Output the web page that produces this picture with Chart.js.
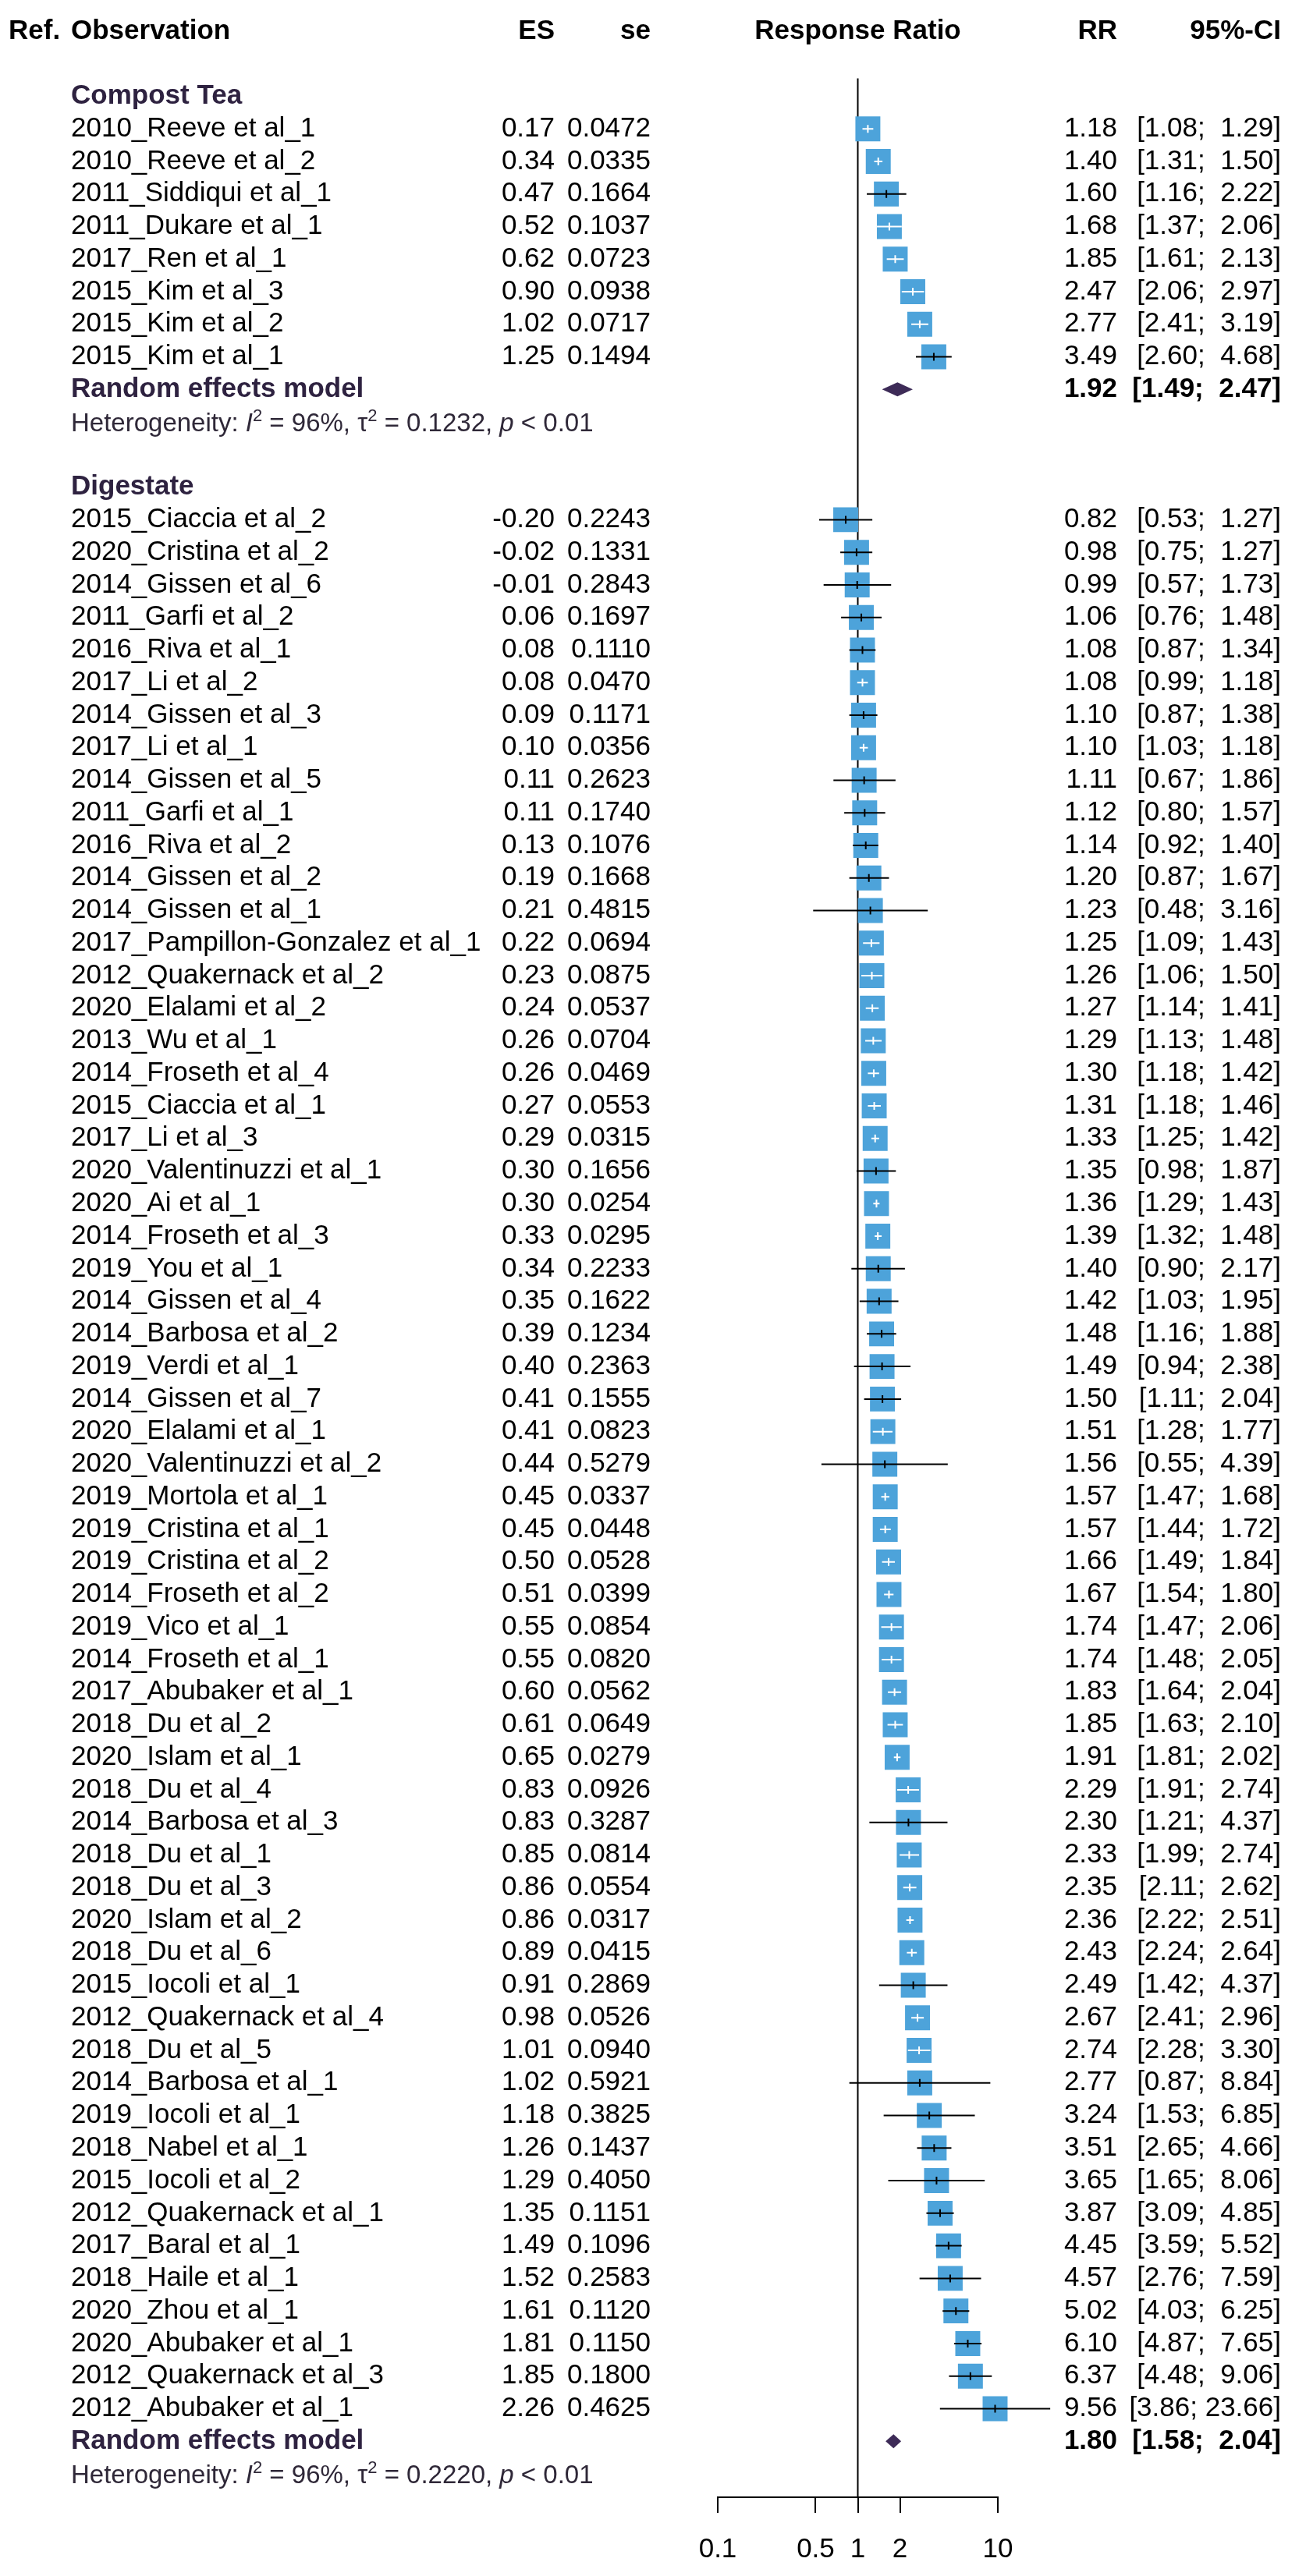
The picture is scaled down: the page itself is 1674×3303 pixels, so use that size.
<!DOCTYPE html>
<html>
<head>
<meta charset="utf-8">
<script src="https://cdn.jsdelivr.net/npm/chart.js@4.4.1/dist/chart.umd.min.js"></script>
<style>
  html, body { margin: 0; padding: 0; background: #fff; }
  canvas { display: block; }
</style>
</head>
<body>
<canvas id="forestChart" width="1674" height="3303"></canvas>
<script>
// Compost Tea
const compostNames = [
    "2010_Reeve et al_1", "2010_Reeve et al_2", "2011_Siddiqui et al_1", "2011_Dukare et al_1",
    "2017_Ren et al_1", "2015_Kim et al_3", "2015_Kim et al_2", "2015_Kim et al_1"
];
const compostES = [0.17, 0.34, 0.47, 0.52, 0.62, 0.90, 1.02, 1.25];
const compostSE = [0.0472, 0.0335, 0.1664, 0.1037, 0.0723, 0.0938, 0.0717, 0.1494];
const compostRR = [1.18, 1.40, 1.60, 1.68, 1.85, 2.47, 2.77, 3.49];
const compostLower = [1.08, 1.31, 1.16, 1.37, 1.61, 2.06, 2.41, 2.60];
const compostUpper = [1.29, 1.50, 2.22, 2.06, 2.13, 2.97, 3.19, 4.68];
const compostPooled = [1.92, 1.49, 2.47];
const compostHet = ["96%", "0.1232", "< 0.01"];

// Digestate
const digestateNames = [
    "2015_Ciaccia et al_2", "2020_Cristina et al_2", "2014_Gissen et al_6", "2011_Garfi et al_2",
    "2016_Riva et al_1", "2017_Li et al_2", "2014_Gissen et al_3", "2017_Li et al_1",
    "2014_Gissen et al_5", "2011_Garfi et al_1", "2016_Riva et al_2", "2014_Gissen et al_2",
    "2014_Gissen et al_1", "2017_Pampillon-Gonzalez et al_1", "2012_Quakernack et al_2", "2020_Elalami et al_2",
    "2013_Wu et al_1", "2014_Froseth et al_4", "2015_Ciaccia et al_1", "2017_Li et al_3",
    "2020_Valentinuzzi et al_1", "2020_Ai et al_1", "2014_Froseth et al_3", "2019_You et al_1",
    "2014_Gissen et al_4", "2014_Barbosa et al_2", "2019_Verdi et al_1", "2014_Gissen et al_7",
    "2020_Elalami et al_1", "2020_Valentinuzzi et al_2", "2019_Mortola et al_1", "2019_Cristina et al_1",
    "2019_Cristina et al_2", "2014_Froseth et al_2", "2019_Vico et al_1", "2014_Froseth et al_1",
    "2017_Abubaker et al_1", "2018_Du et al_2", "2020_Islam et al_1", "2018_Du et al_4",
    "2014_Barbosa et al_3", "2018_Du et al_1", "2018_Du et al_3", "2020_Islam et al_2",
    "2018_Du et al_6", "2015_Iocoli et al_1", "2012_Quakernack et al_4", "2018_Du et al_5",
    "2014_Barbosa et al_1", "2019_Iocoli et al_1", "2018_Nabel et al_1", "2015_Iocoli et al_2",
    "2012_Quakernack et al_1", "2017_Baral et al_1", "2018_Haile et al_1", "2020_Zhou et al_1",
    "2020_Abubaker et al_1", "2012_Quakernack et al_3", "2012_Abubaker et al_1"
];
const digestateES = [
    -0.20, -0.02, -0.01, 0.06, 0.08, 0.08, 0.09, 0.10, 0.11, 0.11, 0.13, 0.19, 0.21, 0.22, 0.23, 0.24,
    0.26, 0.26, 0.27, 0.29, 0.30, 0.30, 0.33, 0.34, 0.35, 0.39, 0.40, 0.41, 0.41, 0.44, 0.45, 0.45,
    0.50, 0.51, 0.55, 0.55, 0.60, 0.61, 0.65, 0.83, 0.83, 0.85, 0.86, 0.86, 0.89, 0.91, 0.98, 1.01,
    1.02, 1.18, 1.26, 1.29, 1.35, 1.49, 1.52, 1.61, 1.81, 1.85, 2.26
];
const digestateSE = [
    0.2243, 0.1331, 0.2843, 0.1697, 0.1110, 0.0470, 0.1171, 0.0356, 0.2623, 0.1740, 0.1076, 0.1668,
    0.4815, 0.0694, 0.0875, 0.0537, 0.0704, 0.0469, 0.0553, 0.0315, 0.1656, 0.0254, 0.0295, 0.2233,
    0.1622, 0.1234, 0.2363, 0.1555, 0.0823, 0.5279, 0.0337, 0.0448, 0.0528, 0.0399, 0.0854, 0.0820,
    0.0562, 0.0649, 0.0279, 0.0926, 0.3287, 0.0814, 0.0554, 0.0317, 0.0415, 0.2869, 0.0526, 0.0940,
    0.5921, 0.3825, 0.1437, 0.4050, 0.1151, 0.1096, 0.2583, 0.1120, 0.1150, 0.1800, 0.4625
];
const digestateRR = [
    0.82, 0.98, 0.99, 1.06, 1.08, 1.08, 1.10, 1.10, 1.11, 1.12, 1.14, 1.20, 1.23, 1.25, 1.26, 1.27,
    1.29, 1.30, 1.31, 1.33, 1.35, 1.36, 1.39, 1.40, 1.42, 1.48, 1.49, 1.50, 1.51, 1.56, 1.57, 1.57,
    1.66, 1.67, 1.74, 1.74, 1.83, 1.85, 1.91, 2.29, 2.30, 2.33, 2.35, 2.36, 2.43, 2.49, 2.67, 2.74,
    2.77, 3.24, 3.51, 3.65, 3.87, 4.45, 4.57, 5.02, 6.10, 6.37, 9.56
];
const digestateLower = [
    0.53, 0.75, 0.57, 0.76, 0.87, 0.99, 0.87, 1.03, 0.67, 0.80, 0.92, 0.87, 0.48, 1.09, 1.06, 1.14,
    1.13, 1.18, 1.18, 1.25, 0.98, 1.29, 1.32, 0.90, 1.03, 1.16, 0.94, 1.11, 1.28, 0.55, 1.47, 1.44,
    1.49, 1.54, 1.47, 1.48, 1.64, 1.63, 1.81, 1.91, 1.21, 1.99, 2.11, 2.22, 2.24, 1.42, 2.41, 2.28,
    0.87, 1.53, 2.65, 1.65, 3.09, 3.59, 2.76, 4.03, 4.87, 4.48, 3.86
];
const digestateUpper = [
    1.27, 1.27, 1.73, 1.48, 1.34, 1.18, 1.38, 1.18, 1.86, 1.57, 1.40, 1.67, 3.16, 1.43, 1.50, 1.41,
    1.48, 1.42, 1.46, 1.42, 1.87, 1.43, 1.48, 2.17, 1.95, 1.88, 2.38, 2.04, 1.77, 4.39, 1.68, 1.72,
    1.84, 1.80, 2.06, 2.05, 2.04, 2.10, 2.02, 2.74, 4.37, 2.74, 2.62, 2.51, 2.64, 4.37, 2.96, 3.30,
    8.84, 6.85, 4.66, 8.06, 4.85, 5.52, 7.59, 6.25, 7.65, 9.06, 23.66
];
const digestatePooled = [1.80, 1.58, 2.04];
const digestateHet = ["96%", "0.2220", "< 0.01"];

// Axis
const tickValues = [0.1, 0.5, 1, 2, 10];
const tickLabels = ["0.1", "0.5", "1", "2", "10"];

const groups = [
    { title: "Compost Tea", names: compostNames, es: compostES, se: compostSE, rr: compostRR,
      lo: compostLower, hi: compostUpper, pooled: compostPooled, het: compostHet },
    { title: "Digestate", names: digestateNames, es: digestateES, se: digestateSE, rr: digestateRR,
      lo: digestateLower, hi: digestateUpper, pooled: digestatePooled, het: digestateHet }
];

// Assign row numbers (row 0 = column header)
let row = 2;
groups.forEach(g => {
    g.titleRow = row++;
    g.studyRows = g.names.map(() => row++);
    g.poolRow = row++;
    g.hetRow = row++;
    row++;
});

const FONT = "'Liberation Sans', Arial, sans-serif";
const SQUARE_COLOR = "#4DA3DA";
const DIAMOND_COLOR = "#3D2B57";
const GROUP_COLOR = "#2E2240";
const POINT_RADIUS = 22.6;

const points = [];
groups.forEach(g => g.rr.forEach((v, i) => points.push({ x: v, y: g.studyRows[i], lo: g.lo[i], hi: g.hi[i] })));

const cols = { ref: 11, obs: 91, es: 711, se: 834, rr: 1432, ci: 1642 };

function drawText(ctx, str, x, y, align, font, color) {
    ctx.font = font;
    ctx.fillStyle = color || "#000";
    ctx.textAlign = align;
    ctx.textBaseline = "middle";
    ctx.fillText(str, x, y);
}

function ciText(lo, hi) {
    return "[" + lo.toFixed(2) + "; " + hi.toFixed(2).padStart(5, " ") + "]";
}

function drawHet(ctx, het, x, y) {
    const normal = "33px " + FONT;
    const italic = "italic 33px " + FONT;
    const sup = "22px " + FONT;
    const parts = [
        ["Heterogeneity: ", normal, 0], ["I", italic, 0], ["2", sup, -13],
        [" = " + het[0] + ", ", normal, 0], ["\u03c4", normal, 0], ["2", sup, -13],
        [" = " + het[1] + ", ", normal, 0], ["p", italic, 0], [" " + het[2], normal, 0]
    ];
    ctx.textAlign = "left";
    ctx.textBaseline = "alphabetic";
    ctx.fillStyle = "#2F2838";
    let cx = x;
    parts.forEach(([s, f, dy]) => {
        ctx.font = f;
        ctx.fillText(s, cx, y + 12 + dy);
        cx += ctx.measureText(s).width;
    });
}

const forestPlugin = {
    id: "forest",
    beforeDatasetsDraw(chart) {
        const { ctx, scales: { x, y } } = chart;
        const px = x.getPixelForValue(1);
        ctx.save();
        ctx.strokeStyle = "#000";
        ctx.lineWidth = 2;
        ctx.beginPath();
        ctx.moveTo(px, y.getPixelForValue(1.45));
        ctx.lineTo(px, chart.chartArea.bottom);
        ctx.stroke();
        ctx.restore();
    },
    afterDatasetsDraw(chart) {
        const { ctx, scales: { x, y } } = chart;
        const half = POINT_RADIUS * Math.SQRT1_2;
        ctx.save();

        // confidence intervals
        points.forEach(p => {
            const cx = x.getPixelForValue(p.x);
            const cy = y.getPixelForValue(p.y);
            const x1 = x.getPixelForValue(p.lo);
            const x2 = x.getPixelForValue(p.hi);
            const inside = x1 >= cx - half && x2 <= cx + half;
            ctx.strokeStyle = inside ? "#fff" : "#000";
            ctx.lineWidth = 2;
            ctx.beginPath();
            ctx.moveTo(x1, cy);
            ctx.lineTo(x2, cy);
            ctx.moveTo(cx, cy - 5);
            ctx.lineTo(cx, cy + 5);
            ctx.stroke();
        });

        // pooled diamonds
        groups.forEach(g => {
            const cy = y.getPixelForValue(g.poolRow);
            ctx.fillStyle = DIAMOND_COLOR;
            ctx.beginPath();
            ctx.moveTo(x.getPixelForValue(g.pooled[1]), cy);
            ctx.lineTo(x.getPixelForValue(g.pooled[0]), cy - 9);
            ctx.lineTo(x.getPixelForValue(g.pooled[2]), cy);
            ctx.lineTo(x.getPixelForValue(g.pooled[0]), cy + 9);
            ctx.closePath();
            ctx.fill();
        });

        // text columns
        const reg = "35px " + FONT;
        const bold = "bold 35px " + FONT;
        const hy = y.getPixelForValue(0);
        drawText(ctx, "Ref.", cols.ref, hy, "left", bold);
        drawText(ctx, "Observation", cols.obs, hy, "left", bold);
        drawText(ctx, "ES", cols.es, hy, "right", bold);
        drawText(ctx, "se", cols.se, hy, "right", bold);
        drawText(ctx, "Response Ratio", x.getPixelForValue(1), hy, "center", bold);
        drawText(ctx, "RR", cols.rr, hy, "right", bold);
        drawText(ctx, "95%-CI", cols.ci, hy, "right", bold);

        groups.forEach(g => {
            drawText(ctx, g.title, cols.obs, y.getPixelForValue(g.titleRow), "left", bold, GROUP_COLOR);
            g.names.forEach((n, i) => {
                const ry = y.getPixelForValue(g.studyRows[i]);
                drawText(ctx, n, cols.obs, ry, "left", reg);
                drawText(ctx, g.es[i].toFixed(2), cols.es, ry, "right", reg);
                drawText(ctx, g.se[i].toFixed(4), cols.se, ry, "right", reg);
                drawText(ctx, g.rr[i].toFixed(2), cols.rr, ry, "right", reg);
                drawText(ctx, ciText(g.lo[i], g.hi[i]), cols.ci, ry, "right", reg);
            });
            const py = y.getPixelForValue(g.poolRow);
            drawText(ctx, "Random effects model", cols.obs, py, "left", bold, GROUP_COLOR);
            drawText(ctx, g.pooled[0].toFixed(2), cols.rr, py, "right", bold);
            drawText(ctx, ciText(g.pooled[1], g.pooled[2]), cols.ci, py, "right", bold);
            drawHet(ctx, g.het, cols.obs, y.getPixelForValue(g.hetRow));
        });
        ctx.restore();
    }
};

new Chart(document.getElementById("forestChart").getContext("2d"), {
    type: "scatter",
    data: {
        datasets: [{
            data: points,
            pointStyle: "rect",
            pointRadius: POINT_RADIUS,
            pointHoverRadius: POINT_RADIUS,
            backgroundColor: SQUARE_COLOR,
            borderWidth: 0,
            clip: false
        }]
    },
    options: {
        responsive: false,
        animation: false,
        devicePixelRatio: 1,
        layout: { padding: { left: 920, right: 395, top: 40, bottom: 0 } },
        plugins: { legend: { display: false }, tooltip: { enabled: false } },
        scales: {
            x: {
                type: "logarithmic",
                min: 0.1,
                max: 10,
                afterBuildTicks: (scale) => { scale.ticks = tickValues.map(v => ({ value: v })); },
                afterFit: (scale) => { scale.height = 101; },
                ticks: {
                    autoSkip: false,
                    maxRotation: 0,
                    padding: 26,
                    color: "#000",
                    font: { family: FONT, size: 35 },
                    callback: (value) => tickLabels[tickValues.indexOf(value)]
                },
                grid: { display: true, drawOnChartArea: false, drawTicks: true, tickLength: 20, color: "#000", lineWidth: 2 },
                border: { display: true, color: "#000", width: 2 }
            },
            y: {
                display: false,
                reverse: true,
                min: 0,
                max: 75.72
            }
        }
    },
    plugins: [forestPlugin]
});
</script>
</body>
</html>
